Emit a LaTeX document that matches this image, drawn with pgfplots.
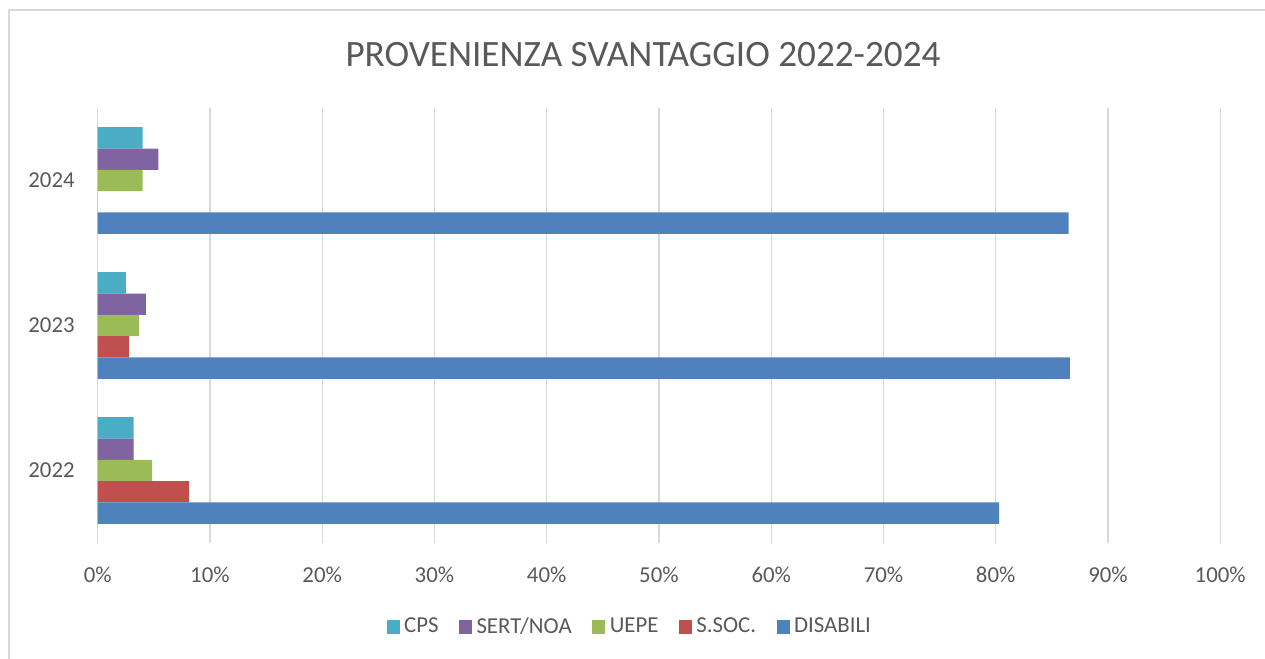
\documentclass[border=0pt]{standalone}
\usepackage{fontspec}
\setmainfont{Carlito}
\usepackage{pgfplots}
\pgfplotsset{compat=1.18}
\definecolor{cps}{HTML}{4BACC6}
\definecolor{sert}{HTML}{8064A2}
\definecolor{uepe}{HTML}{9BBB59}
\definecolor{ssoc}{HTML}{C0504D}
\definecolor{dis}{HTML}{4F81BD}
\definecolor{txt}{HTML}{595959}
\definecolor{grd}{HTML}{D9D9D9}
\begin{document}
\begin{tikzpicture}
\useasboundingbox (0,0) rectangle (632.5pt,329.5pt);
\draw[grd, line width=0.9pt] (4.5pt,-20pt) -- (4.5pt,324.5pt) -- (660pt,324.5pt);
\node[txt, font=\fontsize{18.6}{21}\selectfont, inner sep=0pt] at (321.5pt,302.2pt) {PROVENIENZA SVANTAGGIO 2022-2024};
\begin{axis}[
  at={(48.85pt,58pt)}, anchor=south west,
  scale only axis, width=561.25pt, height=217.5pt,
  xbar, bar width=0.147,
  xmin=0, xmax=100, ymin=-0.5, ymax=2.5,
  xtick={0,10,...,100},
  xticklabels={0\%,10\%,20\%,30\%,40\%,50\%,60\%,70\%,80\%,90\%,100\%},
  ytick={0,1,2},
  yticklabels={2022,2023,2024},
  major tick length=0pt,
  axis line style={draw=none},
  xmajorgrids, grid style={grd, line width=0.7pt},
  ymajorgrids=false,
  tick label style={txt, font=\fontsize{11.4}{13}\selectfont},
  xticklabel style={yshift=-8.5pt},
  yticklabel style={xshift=-8pt},
  legend style={at={(0.475,-0.193)}, anchor=center, draw=none, fill=none,
    font=\fontsize{11.4}{13}\selectfont, text=txt, legend columns=-1,
    /tikz/every even column/.append style={column sep=8pt},
    nodes={inner sep=2.2pt}},
  legend image code/.code={\fill[#1] (0pt,-3.3pt) rectangle (6.6pt,3.3pt);},
  every axis plot/.append style={draw=none},
]
\addplot[fill=cps, bar shift=0.294] coordinates {(3.2,0) (2.5,1) (4.0,2)};
\addplot[fill=sert, bar shift=0.147] coordinates {(3.2,0) (4.3,1) (5.4,2)};
\addplot[fill=uepe, bar shift=0] coordinates {(4.85,0) (3.7,1) (4.0,2)};
\addplot[fill=ssoc, bar shift=-0.147] coordinates {(8.15,0) (2.8,1) (0,2)};
\addplot[fill=dis, bar shift=-0.294] coordinates {(80.3,0) (86.6,1) (86.5,2)};
\legend{CPS, SERT/NOA, UEPE, S.SOC., DISABILI}
\end{axis}
\end{tikzpicture}
\end{document}
